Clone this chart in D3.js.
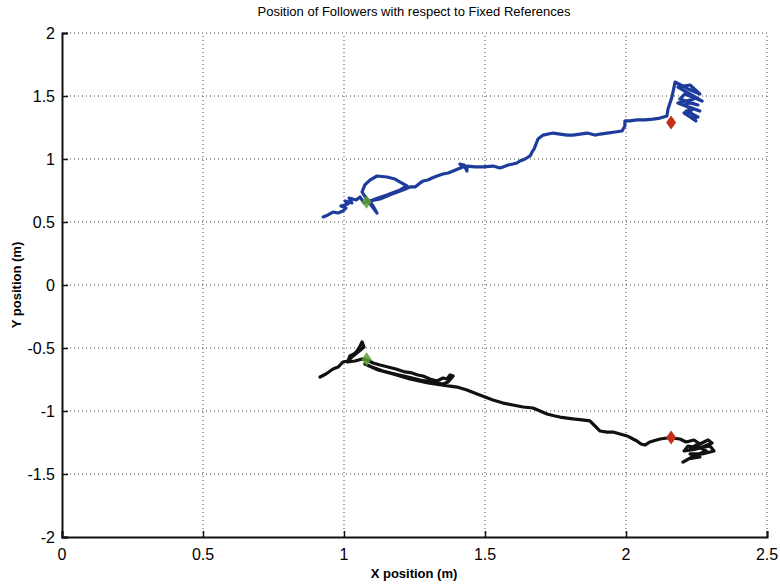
<!DOCTYPE html>
<html>
<head>
<meta charset="utf-8">
<script src="https://cdn.jsdelivr.net/npm/d3@7"></script>
<style>
  body { margin: 0; background: #fff; }
  svg { display: block; }
</style>
</head>
<body>
<script>
// axis setup
const xTicks = [0, 0.5, 1, 1.5, 2, 2.5];
const yTicks = [-2, -1.5, -1, -0.5, 0, 0.5, 1, 1.5, 2];

// follower 1 (blue) path, [x, y] in metres
const blueX = [0.926,0.943,0.961,0.979,0.996,1.007,0.989,1.014,1.004,1.028,1.018,1.043,1.057,1.071,1.092,1.103,1.117,1.096,1.082,1.064,1.074,1.092,1.117,1.152,1.181,1.199,1.223,1.199,1.152,1.121,1.092,1.128,1.170,1.209,1.234,1.252,1.270,1.280,1.298,1.312,1.330,1.351,1.369,1.387,1.404,1.422,1.411,1.426,1.436,1.436,1.465,1.493,1.528,1.553,1.564,1.582,1.599,1.613,1.624,1.642,1.660,1.667,1.674,1.681,1.688,1.706,1.741,1.766,1.791,1.812,1.837,1.862,1.890,1.908,1.933,1.961,1.986,1.996,1.996,2.014,2.039,2.067,2.096,2.121,2.145,2.149,2.163,2.174,2.220,2.262,2.227,2.184,2.245,2.270,2.209,2.191,2.255,2.227,2.206,2.262,2.241,2.213,2.255,2.227,2.206,2.248,2.220,2.184,2.241];
const blueY = [0.540,0.556,0.579,0.571,0.587,0.611,0.627,0.643,0.667,0.651,0.690,0.675,0.698,0.651,0.667,0.627,0.571,0.635,0.675,0.738,0.794,0.833,0.865,0.857,0.841,0.817,0.786,0.754,0.714,0.690,0.667,0.683,0.722,0.754,0.778,0.778,0.810,0.825,0.833,0.849,0.865,0.881,0.889,0.905,0.921,0.937,0.960,0.952,0.905,0.944,0.937,0.937,0.944,0.929,0.937,0.952,0.960,0.968,0.984,1.000,1.024,1.056,1.079,1.119,1.159,1.190,1.206,1.198,1.190,1.190,1.198,1.206,1.190,1.198,1.206,1.214,1.222,1.262,1.302,1.302,1.310,1.310,1.317,1.325,1.341,1.397,1.492,1.611,1.556,1.516,1.587,1.571,1.492,1.460,1.516,1.476,1.429,1.444,1.429,1.381,1.397,1.381,1.333,1.333,1.365,1.302,1.413,1.444,1.476];

// follower 2 (black) path
const blackX = [0.915,0.936,0.961,0.979,0.996,1.014,1.021,1.035,1.046,1.057,1.064,1.071,1.050,1.028,1.011,1.039,1.064,1.082,1.103,1.128,1.156,1.184,1.216,1.241,1.262,1.280,1.305,1.330,1.351,1.365,1.376,1.387,1.369,1.351,1.312,1.270,1.227,1.181,1.138,1.099,1.074,1.121,1.174,1.234,1.298,1.351,1.401,1.436,1.472,1.500,1.528,1.564,1.599,1.635,1.670,1.720,1.748,1.766,1.791,1.812,1.844,1.872,1.890,1.908,1.933,1.954,1.979,2.004,2.025,2.039,2.053,2.067,2.085,2.096,2.121,2.145,2.163,2.191,2.213,2.241,2.262,2.291,2.305,2.262,2.220,2.206,2.248,2.298,2.312,2.270,2.227,2.262,2.220,2.202,2.241,2.284,2.248,2.227];
const blackY = [-0.730,-0.706,-0.667,-0.651,-0.611,-0.603,-0.563,-0.548,-0.524,-0.484,-0.452,-0.492,-0.532,-0.571,-0.611,-0.603,-0.587,-0.595,-0.619,-0.635,-0.651,-0.667,-0.690,-0.698,-0.714,-0.722,-0.746,-0.762,-0.738,-0.746,-0.714,-0.722,-0.770,-0.786,-0.770,-0.754,-0.730,-0.706,-0.683,-0.651,-0.627,-0.675,-0.706,-0.746,-0.778,-0.794,-0.810,-0.833,-0.865,-0.889,-0.913,-0.937,-0.952,-0.968,-0.976,-1.024,-1.040,-1.048,-1.056,-1.063,-1.071,-1.079,-1.119,-1.159,-1.167,-1.167,-1.183,-1.198,-1.222,-1.238,-1.262,-1.270,-1.246,-1.238,-1.222,-1.214,-1.214,-1.222,-1.246,-1.230,-1.262,-1.230,-1.254,-1.294,-1.278,-1.317,-1.302,-1.278,-1.317,-1.341,-1.341,-1.365,-1.381,-1.405,-1.357,-1.317,-1.270,-1.302];

// start (green) and fixed reference (red) markers
const startX = [1.08, 1.08];
const startY = [0.66, -0.59];
const refX = [2.16, 2.16];
const refY = [1.29, -1.21];

const width = 780;
const height = 584;
const margin = { top: 33, right: 13, bottom: 47, left: 62 };

const x = d3.scaleLinear().domain([0, 2.5]).range([margin.left, width - margin.right]);
const y = d3.scaleLinear().domain([-2, 2]).range([height - margin.bottom, margin.top]);

const svg = d3.select("body").append("svg")
  .attr("width", width)
  .attr("height", height)
  .style("font-family", "'Liberation Sans Narrow', 'Liberation Sans', Arial, sans-serif");

// dotted grid
const grid = svg.append("g").attr("stroke", "#444").attr("stroke-width", 1)
  .attr("stroke-dasharray", "1,3");
grid.selectAll("line.v").data(xTicks.slice(1)).join("line")
  .attr("x1", d => x(d)).attr("x2", d => x(d))
  .attr("y1", y(-2)).attr("y2", y(2));
grid.selectAll("line.h").data(yTicks.slice(1)).join("line")
  .attr("y1", d => y(d)).attr("y2", d => y(d))
  .attr("x1", x(0)).attr("x2", x(2.5));

// axes, ticks pointing inwards
const xAxis = svg.append("g")
  .attr("transform", `translate(0,${y(-2)})`)
  .call(d3.axisTop(x).tickValues(xTicks).tickSize(6));
xAxis.selectAll("text").remove();
const yAxis = svg.append("g")
  .attr("transform", `translate(${x(0)},0)`)
  .call(d3.axisRight(y).tickValues(yTicks).tickSize(6));
yAxis.selectAll("text").remove();
svg.selectAll(".domain").attr("stroke", "#111").attr("stroke-width", 2);
svg.selectAll(".tick line").attr("stroke", "#111").attr("stroke-width", 1.5);

// tick labels
svg.append("g").selectAll("text").data(xTicks).join("text")
  .attr("x", d => x(d)).attr("y", y(-2) + 23)
  .attr("text-anchor", "middle")
  .attr("font-size", 16)
  .text(d => d);
svg.append("g").selectAll("text").data(yTicks).join("text")
  .attr("x", x(0) - 7).attr("y", d => y(d) + 6)
  .attr("text-anchor", "end")
  .attr("font-size", 16)
  .text(d => d);

// titles
svg.append("text")
  .attr("x", 414).attr("y", 16)
  .attr("text-anchor", "middle")
  .attr("font-size", 13)
  .text("Position of Followers with respect to Fixed References");
svg.append("text")
  .attr("x", 414).attr("y", 578)
  .attr("text-anchor", "middle")
  .attr("font-size", 13).attr("font-weight", "bold")
  .text("X position (m)");
svg.append("text")
  .attr("transform", `translate(21,${y(0)}) rotate(-90)`)
  .attr("text-anchor", "middle")
  .attr("font-size", 13).attr("font-weight", "bold")
  .text("Y position (m)");

// trajectories
const line = d3.line().x(d => x(d[0])).y(d => y(d[1]));
svg.append("path")
  .datum(blueX.map((v, i) => [v, blueY[i]]))
  .attr("fill", "none").attr("stroke", "#1d3c9c").attr("stroke-width", 3.2)
  .attr("stroke-linejoin", "round").attr("stroke-linecap", "round")
  .attr("d", line);
svg.append("path")
  .datum(blackX.map((v, i) => [v, blackY[i]]))
  .attr("fill", "none").attr("stroke", "#111").attr("stroke-width", 3.2)
  .attr("stroke-linejoin", "round").attr("stroke-linecap", "round")
  .attr("d", line);

// diamonds
const diamond = (cx, cy) => `M${cx},${cy - 7}L${cx + 5},${cy}L${cx},${cy + 7}L${cx - 5},${cy}Z`;
svg.append("g").selectAll("path").data(startX).join("path")
  .attr("d", (d, i) => diamond(x(d), y(startY[i])))
  .attr("fill", "#5c9e30").attr("opacity", 0.85);
svg.append("g").selectAll("path").data(refX).join("path")
  .attr("d", (d, i) => diamond(x(d), y(refY[i])))
  .attr("fill", "#c4301c");
</script>
</body>
</html>
